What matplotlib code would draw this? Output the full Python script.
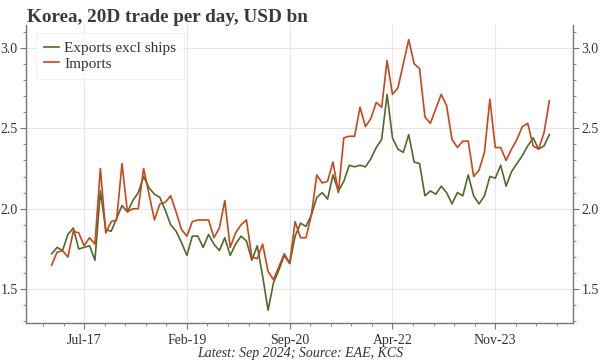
import numpy as np
import pandas as pd
import matplotlib
matplotlib.use("Agg")
import matplotlib.pyplot as plt
from matplotlib.ticker import FixedLocator, MultipleLocator

# monthly data, Jan 2017 - Sep 2024 (USD bn per day, 20D)
start = "2017-01"
exports = [1.72, 1.76, 1.74, 1.84, 1.88, 1.75, 1.76, 1.77, 1.68, 2.11,
           1.87, 1.86, 1.94, 2.02, 1.98, 2.05, 2.10, 2.20, 2.13, 2.09,
           2.07, 1.99, 1.90, 1.86, 1.79, 1.71, 1.83, 1.83, 1.76, 1.84,
           1.78, 1.74, 1.82, 1.71, 1.78, 1.83, 1.80, 1.68, 1.77, 1.58,
           1.37, 1.54, 1.62, 1.71, 1.66, 1.83, 1.91, 1.89, 1.96, 2.07,
           2.10, 2.06, 2.21, 2.11, 2.17, 2.27, 2.26, 2.27, 2.26, 2.31,
           2.38, 2.43, 2.71, 2.44, 2.37, 2.35, 2.46, 2.29, 2.28, 2.08,
           2.11, 2.09, 2.14, 2.10, 2.03, 2.10, 2.08, 2.21, 2.08, 2.03,
           2.08, 2.20, 2.19, 2.27, 2.14, 2.23, 2.28, 2.33, 2.39, 2.44,
           2.37, 2.39, 2.46]
imports = [1.65, 1.73, 1.74, 1.70, 1.86, 1.85, 1.77, 1.82, 1.78, 2.25,
           1.85, 1.92, 1.93, 2.28, 1.98, 2.00, 2.00, 2.25, 2.09, 1.93,
           2.03, 2.04, 2.08, 1.98, 1.87, 1.83, 1.92, 1.93, 1.93, 1.93,
           1.82, 1.88, 2.05, 1.76, 1.85, 1.90, 1.93, 1.70, 1.69, 1.78,
           1.61, 1.56, 1.64, 1.72, 1.66, 1.92, 1.82, 1.82, 1.96, 2.21,
           2.16, 2.17, 2.29, 2.10, 2.44, 2.45, 2.45, 2.63, 2.51, 2.56,
           2.66, 2.63, 2.92, 2.71, 2.75, 2.90, 3.05, 2.90, 2.87, 2.57,
           2.53, 2.62, 2.71, 2.64, 2.43, 2.38, 2.42, 2.42, 2.20, 2.24,
           2.35, 2.68, 2.38, 2.38, 2.30, 2.37, 2.43, 2.51, 2.53, 2.39,
           2.37, 2.47, 2.67]
tick_labels = ["Jul-17", "Feb-19", "Sep-20", "Apr-22", "Nov-23"]

x = np.arange(len(exports))
t0 = pd.Period(start, freq="M")
tick_pos = [(pd.Period(pd.to_datetime(t, format="%b-%y"), freq="M") - t0).n
            for t in tick_labels]

plt.rcParams["font.family"] = ["Liberation Serif", "DejaVu Serif"]
txt = "#333333"
spine = "#777777"

fig = plt.figure(figsize=(6, 3.64), dpi=100)
ax = fig.add_axes([0.0433, 0.112, 0.912, 0.819])

ax.plot(x, exports, color="#4f6b2c", lw=1.2, label="Exports excl ships")
ax.plot(x, imports, color="#c9461b", lw=1.2, label="Imports")

ax.set_xlim(-4.75, 96.4)
ax.set_ylim(1.289, 3.14)

ax.xaxis.set_major_locator(FixedLocator(tick_pos))
ax.set_xticklabels(tick_labels)
step = (tick_pos[1] - tick_pos[0]) / 5
ax.xaxis.set_minor_locator(FixedLocator(np.arange(tick_pos[0] - 3 * step, 100, step)))
ax.yaxis.set_major_locator(MultipleLocator(0.5))
ax.yaxis.set_minor_locator(MultipleLocator(0.1))
ax.yaxis.set_major_formatter(plt.FuncFormatter(lambda v, p: f"{v:.1f}"))

ax.tick_params(axis="both", which="major", length=4.5, width=0.8, color=spine,
               labelsize=10, labelcolor=txt)
ax.tick_params(axis="both", which="minor", length=2.5, width=0.6, color=spine)
ax.tick_params(axis="y", which="both", left=True, right=True, labelleft=True, labelright=True, pad=1.5)
ax.tick_params(axis="x", which="major", pad=3)

ax.grid(True, which="major", color="#e6e6e6", lw=0.8)
ax.set_axisbelow(True)
for s in ["left", "right", "bottom"]:
    ax.spines[s].set_color(spine)
    ax.spines[s].set_linewidth(1.0)
ax.spines["top"].set_visible(False)

leg = ax.legend(loc="upper left", fontsize=11, handlelength=1.0, handletextpad=0.3,
                labelspacing=0.15, borderpad=0.55, frameon=True, fancybox=False,
                bbox_to_anchor=(0.004, 1.0))
leg.get_frame().set_edgecolor("#eeeeee")
leg.get_frame().set_linewidth(0.8)
for t in leg.get_texts():
    t.set_color(txt)

fig.text(0.045, 0.94, "Korea, 20D trade per day, USD bn", fontsize=13.8,
         fontweight="bold", color="#3a3a3a", ha="left", va="baseline")
fig.text(0.5, 0.018, "Latest: Sep 2024; Source: EAE, KCS", fontsize=10,
         style="italic", color=txt, ha="center", va="baseline")

fig.savefig("out.png", dpi=100)
